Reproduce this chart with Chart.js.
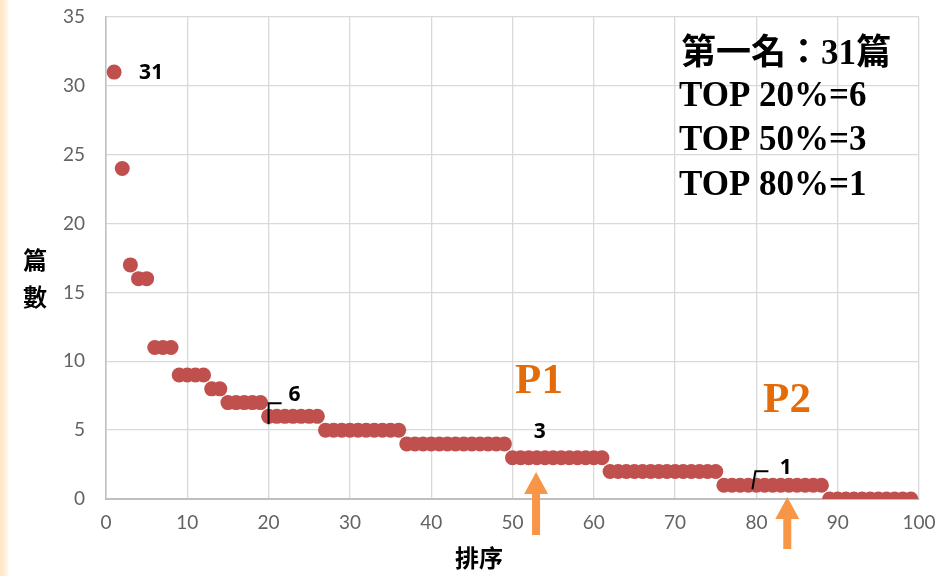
<!DOCTYPE html>
<html><head><meta charset="utf-8">
<script src="https://cdn.jsdelivr.net/npm/chart.js@4/dist/chart.umd.min.js"></script>
<style>
html,body{margin:0;padding:0;background:#fff;}
#wrap{position:relative;width:949px;height:576px;background:linear-gradient(to right,#fde6c4 0px,#fff3e0 7px,#ffffff 9px);}
canvas{display:block;}
</style></head>
<body><div id="wrap"><canvas id="c" width="949" height="576"></canvas></div>
<script>
// rank 1..99 and paper counts
const ranks = [];
for (let i = 1; i <= 99; i++) ranks.push(i);
const counts = [31,24,17,16,16,11,11,11,9,9,9,9,8,8,7,7,7,7,7,
  6,6,6,6,6,6,6,
  5,5,5,5,5,5,5,5,5,5,
  4,4,4,4,4,4,4,4,4,4,4,4,4,
  3,3,3,3,3,3,3,3,3,3,3,3,
  2,2,2,2,2,2,2,2,2,2,2,2,2,2,
  1,1,1,1,1,1,1,1,1,1,1,1,1,
  0,0,0,0,0,0,0,0,0,0,0];
const xTicks = [0,10,20,30,40,50,60,70,80,90,100];
const yTicks = [0,5,10,15,20,25,30,35];
const summaryLines = ["第一名：31篇","TOP 20%=6","TOP 50%=3","TOP 80%=1"];
const xTitle = "排序";
const yTitle = ["篇","數"];
const points = ranks.map((r, i) => ({x: r, y: counts[i]}));

const deco = {
  id: 'deco',
  afterDatasetsDraw(chart) {
    const ctx = chart.ctx;
    const xs = chart.scales.x, ys = chart.scales.y;
    const px = v => xs.getPixelForValue(v), py = v => ys.getPixelForValue(v);
    ctx.save();
    // value labels
    ctx.fillStyle = '#000';
    ctx.font = 'bold 21px "Noto Sans", "Open Sans", sans-serif';
    ctx.textAlign = 'center'; ctx.textBaseline = 'middle';
    ctx.fillText('31', px(1) + 37, py(31) + 1);
    ctx.fillText('6', px(20) + 26, py(6) - 21);
    ctx.fillText('3', px(52) + 11, py(3) - 26);
    ctx.fillText('1', px(82) + 13, py(1) - 17);
    // bracket marks
    ctx.strokeStyle = '#000'; ctx.lineWidth = 2;
    ctx.beginPath();
    ctx.moveTo(px(20), py(6) + 8); ctx.lineTo(px(20), py(6) - 13); ctx.lineTo(px(20) + 13, py(6) - 13);
    ctx.stroke();
    ctx.beginPath();
    ctx.moveTo(px(80) - 4, py(1) + 4); ctx.lineTo(px(80) - 1, py(1) - 14); ctx.lineTo(px(80) + 12, py(1) - 14);
    ctx.stroke();
    // arrows
    ctx.fillStyle = '#f79646';
    function arrow(x, yTop, yBot) {
      ctx.beginPath();
      ctx.moveTo(x, yTop);
      ctx.lineTo(x + 12, yTop + 22);
      ctx.lineTo(x + 4, yTop + 22);
      ctx.lineTo(x + 4, yBot);
      ctx.lineTo(x - 4, yBot);
      ctx.lineTo(x - 4, yTop + 22);
      ctx.lineTo(x - 12, yTop + 22);
      ctx.closePath();
      ctx.fill();
    }
    arrow(px(52.9), 472, 535);
    arrow(px(83.8), 497, 549);
    // P1 / P2
    ctx.fillStyle = '#e36c09';
    ctx.font = 'bold 43px "Liberation Serif", "DejaVu Serif", serif';
    ctx.textAlign = 'center'; ctx.textBaseline = 'alphabetic';
    ctx.fillText('P1', 539, 393);
    ctx.fillText('P2', 787, 412);
    // summary box text
    ctx.fillStyle = '#000';
    ctx.textAlign = 'left';
    const base = [63, 106, 150, 195];
    summaryLines.forEach((t, i) => {
      if (i === 0) {
        let x = 681;
        const cjk = 'bold 35px "Noto Sans CJK TC", sans-serif';
        const parts = [['第一名：', cjk], ['31', 'bold 35px "Liberation Serif", serif'], ['篇', cjk]];
        parts.forEach(([s, f]) => { ctx.font = f; ctx.fillText(s, x, base[i] + 1); x += ctx.measureText(s).width; });
      } else {
        ctx.font = 'bold 35px "Liberation Serif", serif';
        ctx.fillText(t, 679, base[i]);
      }
    });
    // axis titles
    ctx.font = 'bold 24px "Noto Sans CJK TC", sans-serif';
    ctx.textAlign = 'center'; ctx.textBaseline = 'middle';
    ctx.fillText(yTitle[0], 35, 260);
    ctx.fillText(yTitle[1], 35, 297);
    ctx.fillText(xTitle, 479, 558);
    ctx.restore();
  }
};

new Chart(document.getElementById('c'), {
  type: 'scatter',
  data: { datasets: [{
    data: points,
    backgroundColor: '#c0504d',
    borderColor: '#c0504d',
    borderWidth: 0,
    pointRadius: 7.5,
    pointHoverRadius: 7.5
  }]},
  options: {
    responsive: false,
    animation: false,
    events: [],
    layout: { padding: { top: 17, right: 30, left: 0, bottom: 0 } },
    plugins: { legend: { display: false }, tooltip: { enabled: false } },
    scales: {
      x: {
        type: 'linear', min: 0, max: 100,
        afterBuildTicks: s => { s.ticks = xTicks.map(v => ({value: v})); },
        afterFit: s => { s.height = 77; s.paddingLeft = 0; s.paddingRight = 0; },
        grid: { color: '#d9d9d9', lineWidth: 1.3, drawTicks: false },
        border: { color: '#bfbfbf', width: 2 },
        ticks: { padding: 12, color: '#636363', font: { family: 'Lato, "Noto Sans", sans-serif', size: 19 } }
      },
      y: {
        type: 'linear', min: 0, max: 35,
        afterBuildTicks: s => { s.ticks = yTicks.map(v => ({value: v})); },
        afterFit: s => { s.width = 106; s.paddingTop = 0; s.paddingBottom = 0; },
        grid: { color: '#d9d9d9', lineWidth: 1.3, drawTicks: false },
        border: { color: '#bfbfbf', width: 1.5 },
        ticks: { padding: 21, color: '#636363', font: { family: 'Lato, "Noto Sans", sans-serif', size: 19 } }
      }
    }
  },
  plugins: [deco]
});
</script></body></html>
